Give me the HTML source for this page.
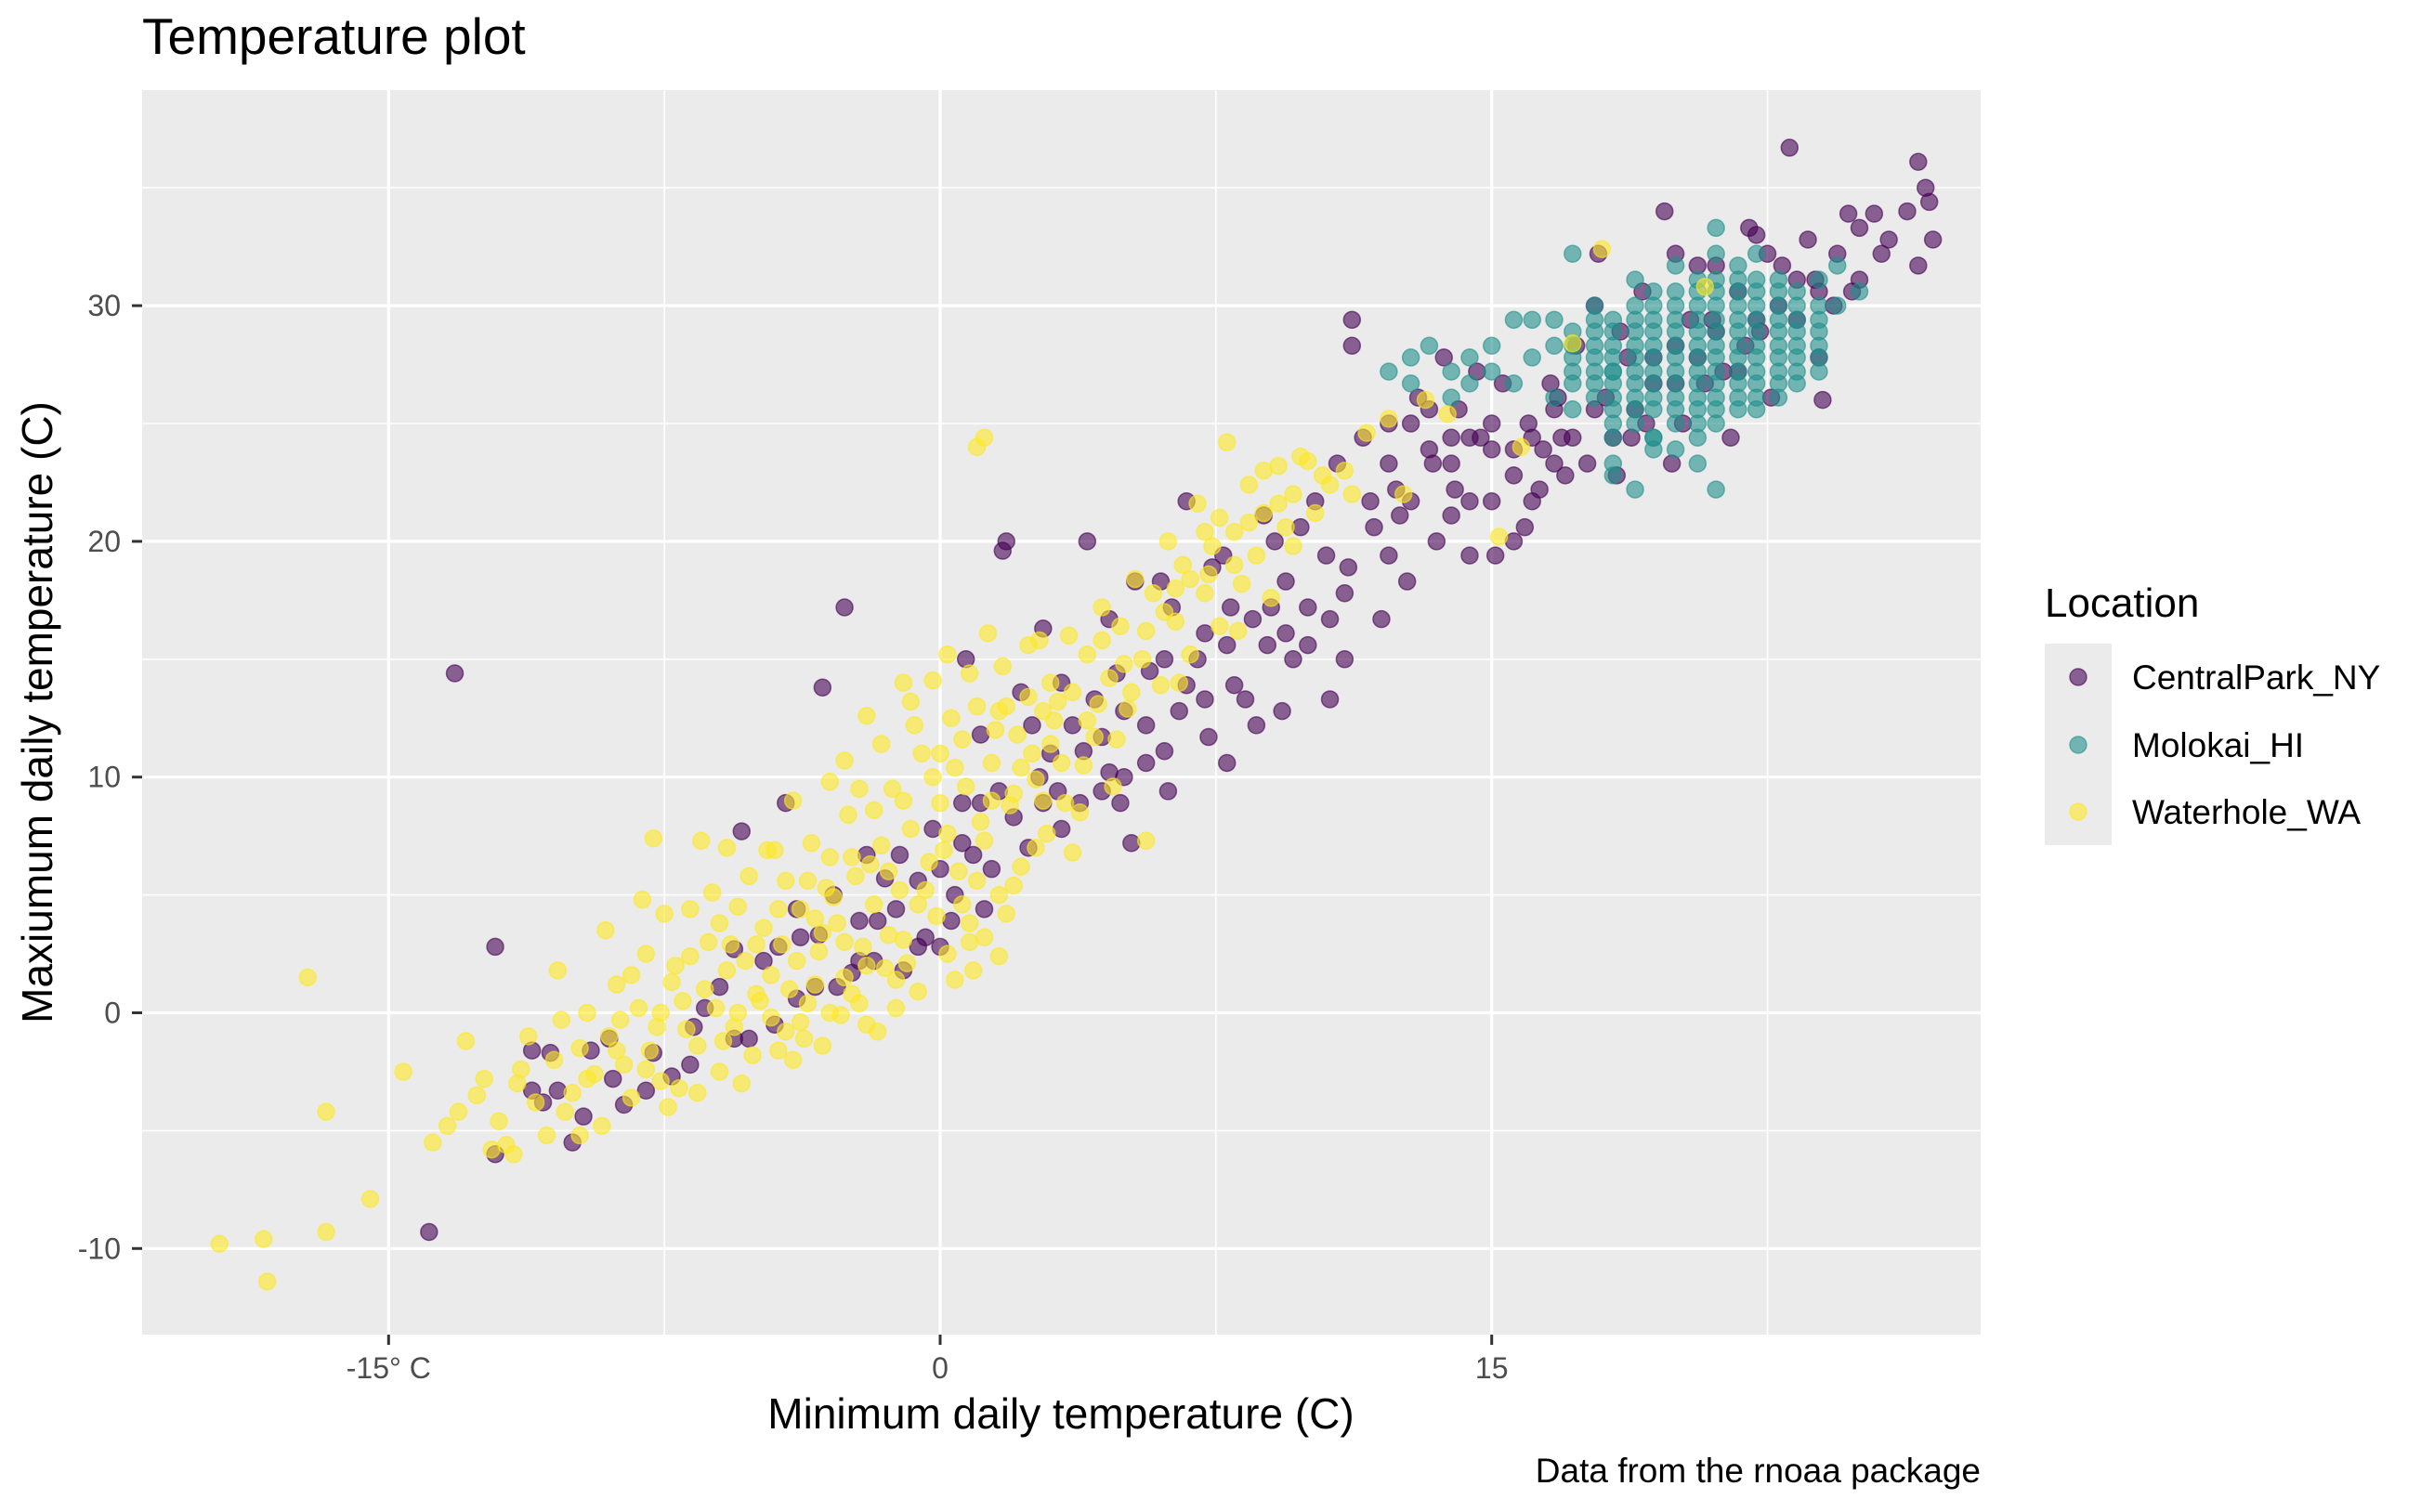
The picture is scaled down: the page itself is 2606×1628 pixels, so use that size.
<!DOCTYPE html>
<html><head><meta charset="utf-8"><style>
html,body{margin:0;padding:0;background:#fff;}
svg{display:block;font-family:"Liberation Sans",sans-serif;}
</style></head><body>
<svg id="chart" width="2606" height="1628" viewBox="0 0 2606 1628" xmlns="http://www.w3.org/2000/svg">
<text x="153" y="58" font-size="55" fill="#000">Temperature plot</text>
<rect x="153" y="97" width="1979" height="1340" fill="#ebebeb"/>
<g id="grid"></g>
<g id="yaxis"></g>
<g id="xaxis"></g>
<g id="points"></g>
<text x="1142" y="1538" font-size="46" text-anchor="middle" fill="#000">Minimum daily temperature (C)</text>
<text transform="translate(56,767) rotate(-90)" font-size="46" text-anchor="middle" fill="#000">Maxiumum daily temperature (C)</text>
<text x="2132" y="1596" font-size="37" text-anchor="end" fill="#000">Data from the rnoaa package</text>
<g>
<text x="2201" y="664" font-size="44" fill="#000">Location</text>
<rect x="2201" y="693" width="72" height="217" fill="#ebebeb"/>
<circle cx="2237" cy="729" r="9" fill="#440154" fill-opacity="0.6" stroke="#440154" stroke-opacity="0.6" stroke-width="1.5"/>
<circle cx="2237" cy="802" r="9" fill="#21908c" fill-opacity="0.6" stroke="#21908c" stroke-opacity="0.6" stroke-width="1.5"/>
<circle cx="2237" cy="874" r="9" fill="#fde725" fill-opacity="0.6" stroke="#fde725" stroke-opacity="0.6" stroke-width="1.5"/>
<text x="2295" y="742" font-size="37" fill="#000">CentralPark_NY</text>
<text x="2295" y="815" font-size="37" fill="#000">Molokai_HI</text>
<text x="2295" y="887" font-size="37" fill="#000">Waterhole_WA</text>
</g>
</svg>
<script>
const xTicks = [-15, 0, 15];
const xTickLabels = ["-15\u00b0 C", "0", "15"];
const xMinor = [-7.5, 7.5, 22.5];
const yTicks = [-10, 0, 10, 20, 30];
const yTickLabels = ["-10", "0", "10", "20", "30"];
const yMinor = [-5, 5, 15, 25, 35];

const nyPoints = [[-13.2,14.4],[-12.1,2.8],[-13.9,-9.3],[-12.1,-6.0],[-11.1,-1.6],[-10.8,-3.8],[-9.7,-4.4],[-9.5,-1.6],[-10.0,-5.5],[-7.3,-2.7],[-6.4,0.2],[-5.6,2.7],[-5.4,7.7],[-4.5,-0.5],[-4.2,8.9],[-3.8,3.2],[-3.2,13.8],[-2.6,17.2],[-2.2,3.9],[-1.5,5.7],[-1.0,1.8],[-0.4,3.2],[0.0,6.1],[0.6,8.9],[0.7,15.0],[1.1,11.8],[1.6,9.4],[2.2,13.6],[1.7,19.6],[1.8,20.0],[2.8,16.3],[2.4,7.0],[3.0,11.0],[3.3,14.0],[3.8,8.9],[4.0,20.0],[4.2,13.3],[4.6,10.2],[4.6,16.7],[5.0,12.8],[5.3,18.3],[5.2,7.2],[5.7,14.5],[6.2,9.4],[6.3,17.2],[6.7,21.7],[6.5,12.8],[7.0,15.0],[7.3,11.7],[7.4,18.9],[7.8,10.6],[8.0,13.9],[8.5,16.7],[8.8,21.1],[9.3,12.8],[9.4,18.3],[10.0,15.6],[10.2,21.7],[10.6,13.3],[11.0,17.8],[11.2,28.3],[11.2,29.4],[11.5,24.4],[11.8,20.6],[12.0,16.7],[12.4,22.2],[12.7,18.3],[13.0,26.1],[13.4,23.3],[13.5,20.0],[13.9,24.4],[14.1,25.6],[14.4,21.7],[14.6,27.2],[15.0,23.9],[15.1,19.4],[15.6,22.8],[15.9,20.6],[16.0,25.0],[16.3,22.2],[16.6,26.7],[16.9,24.4],[17.3,28.3],[17.6,23.3],[17.9,32.2],[18.1,26.1],[18.5,28.9],[18.8,24.4],[19.1,30.6],[19.4,26.7],[19.7,34.0],[20.0,28.3],[20.2,25.0],[20.6,31.7],[21.0,29.4],[21.3,27.2],[21.7,30.6],[22.0,33.3],[22.3,28.9],[22.6,26.1],[22.9,31.7],[23.3,29.4],[23.6,32.8],[23.9,27.8],[24.3,30.0],[24.7,33.9],[25.0,31.1],[25.4,33.9],[25.8,32.8],[26.3,34.0],[26.6,36.1],[26.8,35.0],[26.6,31.7],[27.0,32.8],[26.9,34.4],[23.1,36.7],[24.0,26.0],[21.9,28.3],[19.9,23.3],[18.4,22.8],[17.0,22.8],[16.8,26.1],[15.3,26.7],[14.0,22.2],[12.8,25.0],[12.2,19.4],[11.0,15.0],[10.5,19.4],[9.6,15.0],[9.0,17.2],[8.6,12.2],[7.7,19.4],[7.2,13.3],[6.1,11.1],[5.6,12.2],[4.8,14.4],[4.4,11.7],[3.6,12.2],[2.7,10.0],[2.0,8.3],[1.4,6.1],[0.9,6.7],[0.3,3.9],[-0.6,2.8],[-1.2,4.4],[-1.8,2.2],[-2.4,1.7],[-2.9,5.0],[-3.4,1.1],[-3.9,0.6],[-4.8,2.2],[-5.2,-1.1],[-6.0,1.1],[-6.8,-2.2],[-8.0,-3.3],[-9.0,-1.1],[-10.4,-3.3],[-8.6,-3.9],[-2.0,6.7],[-0.2,7.8],[0.4,5.0],[1.2,4.4],[2.5,12.2],[3.2,9.4],[4.9,8.9],[6.0,18.3],[7.9,17.2],[9.8,20.6],[12.5,21.1],[14.7,24.4],[16.4,23.9],[18.7,27.8],[20.4,29.4],[21.5,24.4],[22.5,32.2],[23.8,31.1],[24.8,30.6],[17.8,30.0],[19.2,25.0],[20.8,26.7],[13.7,27.8],[10.8,23.3],[9.1,20.0],
[12.2,23.3],[12.2,25.0],[12.8,21.7],[13.3,23.9],[13.3,25.6],[13.9,21.1],[13.9,23.3],[14.4,24.4],[14.4,19.4],[15.0,21.7],[15.0,25.0],[15.6,20.0],[15.6,23.9],[16.1,21.7],[16.1,24.4],[16.7,23.3],[16.7,25.6],[17.2,24.4],[17.8,25.6],[18.3,24.4],[18.9,25.6],[19.4,27.8],[20.0,26.7],[20.6,27.8],[21.1,28.9],[21.7,27.2],[22.2,29.4],[22.8,30.0],[23.3,31.1],[23.9,30.6],[24.4,32.2],[25.0,33.3],[25.6,32.2],[21.1,31.7],[22.2,33.0],[20.0,32.2],[8.3,13.3],[8.9,15.6],[9.4,16.1],[10.0,17.2],[10.6,16.7],[11.1,18.9],[11.7,21.7],[7.8,15.6],[7.2,16.1],[6.7,13.9],[6.1,15.0],[5.6,10.6],[5.0,10.0],[4.4,9.4],[3.9,11.1],[3.3,7.8],[2.8,8.9],[-4.4,2.8],[-3.9,4.4],[-3.3,3.3],[-2.8,1.1],[-2.2,2.2],[-1.7,3.9],[-1.1,6.7],[-0.6,5.6],[0.0,2.8],[0.6,7.2],[1.1,8.9],[-5.6,-1.1],[-6.7,-0.6],[-7.8,-1.7],[-8.9,-2.8],[-10.6,-1.7],[-11.1,-3.3]];

const hiSparse = [[12.2,27.2],[12.8,27.8],[12.8,26.7],[13.3,28.3],[13.9,27.2],[13.9,26.1],[14.4,27.8],[14.4,26.7],[15.0,28.3],[15.0,27.2],[15.6,29.4],[15.6,26.7],[16.1,29.4],[16.1,27.8],[16.7,28.3],[16.7,26.1],[16.7,29.4],[17.2,27.8],[17.2,32.2],[17.2,25.6],[17.8,28.9],[17.8,26.7],[17.8,30.0],[18.3,27.2],[18.3,23.3],[18.3,22.8],[18.9,22.2],[18.9,31.1],[19.4,24.4],[20.0,31.7],[21.1,22.2],[21.1,33.3],[22.2,32.2],[24.4,31.7],[24.4,30.0],[25.0,30.6],[20.6,23.3],[19.4,23.9]];
const hiCols = [17.2,17.8,18.3,18.9,19.4,20.0,20.6,21.1,21.7,22.2,22.8,23.3,23.9];
const hiRows = [
[26.7,27.2,28.3,28.9],
[26.1,27.2,27.8,28.3,29.4],
[24.4,25.0,25.6,26.1,26.7,27.2,27.8,28.3,28.9,29.4],
[25.0,25.6,26.1,26.7,27.2,27.8,28.3,28.9,29.4,30.0],
[24.4,25.6,26.1,26.7,27.2,27.8,28.3,28.9,29.4,30.0,30.6],
[23.9,25.0,25.6,26.1,26.7,27.2,27.8,28.3,28.9,29.4,30.0,30.6],
[24.4,25.0,25.6,26.1,26.7,27.2,27.8,28.3,28.9,29.4,30.0,30.6,31.1],
[25.0,25.6,26.1,26.7,27.2,27.8,28.3,28.9,29.4,30.0,30.6,31.1,32.2],
[25.6,26.1,26.7,27.2,27.8,28.3,28.9,29.4,30.0,30.6,31.1,31.7],
[25.6,26.1,26.7,27.2,27.8,28.3,28.9,29.4,30.0,30.6,31.1],
[26.1,26.7,27.2,27.8,28.3,28.9,29.4,30.0,30.6,31.1],
[26.7,27.2,27.8,28.3,28.9,29.4,30.0,30.6],
[27.2,27.8,28.3,28.9,29.4,30.0,31.1]];

const waPoints = [[-19.6,-9.8],[-18.4,-9.6],[-18.3,-11.4],[-17.2,1.5],[-16.7,-4.2],[-16.7,-9.3],[-15.5,-7.9],[-14.6,-2.5],[-13.8,-5.5],[-13.4,-4.8],[-13.1,-4.2],[-12.9,-1.2],[-12.6,-3.5],[-12.2,-5.8],[-12.0,-4.6],[-11.8,-5.6],[-11.5,-3.0],[-11.2,-1.0],[-11.0,-3.8],[-10.7,-5.2],[-10.5,-2.0],[-10.3,-0.3],[-10.0,-3.4],[-9.8,-1.5],[-9.6,0.0],[-9.4,-2.6],[-9.2,-4.8],[-9.0,-1.0],[-8.8,1.2],[-8.6,-2.2],[-8.4,-3.6],[-8.2,0.2],[-8.0,2.5],[-7.9,-1.6],[-7.7,-0.6],[-7.5,4.2],[-7.3,1.3],[-7.1,-3.2],[-7.0,0.5],[-6.8,2.4],[-6.6,-1.4],[-6.5,7.3],[-6.3,3.0],[-6.1,0.2],[-6.0,-2.5],[-5.8,1.8],[-5.6,-0.6],[-5.5,4.5],[-5.3,2.2],[-5.1,-1.8],[-5.0,0.8],[-4.8,3.6],[-4.6,-0.2],[-4.5,6.9],[-4.3,2.9],[-4.1,1.0],[-4.0,-2.0],[-3.8,4.4],[-3.6,0.4],[-3.5,7.2],[-3.3,2.6],[-3.1,5.3],[-3.0,0.0],[-2.8,3.8],[-2.6,1.5],[-2.5,8.4],[-2.3,5.8],[-2.1,2.8],[-2.0,-0.5],[-1.8,4.6],[-1.6,7.1],[-1.5,1.9],[-1.3,9.5],[-1.1,5.2],[-1.0,3.1],[-0.8,7.8],[-0.6,0.9],[-0.5,11.0],[-0.3,6.4],[-0.1,4.1],[0.0,8.9],[0.2,2.5],[0.3,12.5],[0.5,6.0],[0.7,9.6],[0.8,3.8],[1.0,24.0],[1.2,24.4],[1.0,13.0],[1.2,7.3],[1.4,10.6],[1.6,5.0],[1.7,14.7],[1.9,8.8],[2.1,11.8],[2.2,6.2],[2.4,13.4],[2.6,9.9],[2.7,15.8],[2.9,7.6],[3.1,12.4],[3.3,10.6],[3.5,16.0],[3.6,13.6],[3.8,8.5],[4.0,15.2],[4.2,11.7],[4.4,17.2],[4.6,14.2],[4.7,9.6],[4.9,16.4],[5.1,12.9],[5.3,18.4],[5.5,15.0],[5.6,7.3],[5.8,17.8],[6.0,13.9],[6.2,20.0],[6.4,16.6],[6.6,19.0],[6.8,15.2],[7.0,21.6],[7.2,17.8],[7.4,19.8],[7.6,16.4],[7.8,24.2],[8.0,20.4],[8.2,18.2],[8.4,22.4],[8.6,19.4],[8.8,21.2],[9.0,17.6],[9.2,23.2],[9.4,20.6],[9.6,22.0],[9.8,23.6],[10.2,21.2],[10.6,22.4],[11.0,23.0],[11.6,24.6],[12.2,25.2],[12.6,22.0],[13.2,26.0],[13.8,25.4],[15.2,20.2],[15.8,24.0],[17.2,28.4],[18.0,32.4],[20.8,30.8],[-4.9,0.5],[-4.2,-0.8],[-3.9,2.2],[-3.4,1.2],[-2.9,4.9],[-2.4,0.8],[-1.9,6.3],[-1.4,3.3],[-0.9,2.1],[-0.4,5.2],[0.1,6.9],[0.6,4.6],[1.1,8.1],[1.5,12.0],[2.0,9.3],[2.5,11.0],[3.0,14.0],[-6.9,-0.7],[-7.6,-2.9],[-8.7,-0.3],[-5.9,-1.2],[-5.2,5.8],[-4.4,4.4],[-3.7,-1.1],[-2.7,-0.1],[-2.2,9.5],[-1.7,-0.8],[-0.7,12.2],[0.4,10.4],[0.9,1.8],[1.8,4.2],[-6.2,5.1],[-5.7,2.9],[-3.2,3.4],[-1.2,0.2],[6.1,17.0],[7.3,18.6],[8.1,16.2],[5.0,14.8],[4.3,13.1],[3.4,8.9],[2.8,12.8],[3.9,10.5],[6.5,14.0],[1.3,16.1],[-2.6,10.7],[-0.2,14.1],[0.8,3.0],[1.6,2.4],[-4.7,6.9],[-9.1,3.5],[-8.1,4.8],[-7.8,7.4],[-10.4,1.8],
[-5.5,0.0],[-5.0,2.9],[-4.6,1.6],[-4.2,5.6],[-3.8,-0.4],[-3.4,4.0],[-3.0,6.6],[-2.6,3.0],[-2.2,0.4],[-1.8,8.6],[-1.4,6.0],[-1.0,9.0],[-0.6,4.6],[-0.2,10.0],[0.2,7.6],[0.6,11.6],[1.0,5.6],[1.4,9.0],[1.8,13.0],[2.2,10.4],[2.6,7.0],[3.0,11.4],[-6.4,1.0],[-6.8,4.4],[-7.2,2.0],[-7.6,0.0],[-8.0,-2.4],[-8.4,1.6],[-8.8,-1.6],[-9.6,-2.8],[-10.2,-4.2],[-11.4,-2.4],[-12.4,-2.8],[-5.8,7.0],[-4.0,9.0],[-3.6,5.6],[-2.4,6.6],[-1.6,11.4],[-0.8,13.2],[0.0,11.0],[0.8,14.4],[1.6,12.8],[2.4,15.6],[3.2,13.2],[4.0,12.4],[4.8,11.6],[5.6,16.2],[6.4,18.0],[7.2,20.4],[8.0,19.0],[8.8,23.0],[9.6,19.8],[10.4,22.8],[11.2,22.0],[-3.2,-1.4],[-2.0,2.0],[-1.2,1.4],[0.4,1.4],[1.2,3.2],[2.0,5.4],[2.8,9.0],[3.6,6.8],[-4.4,-1.6],[-5.4,-3.0],[-6.6,-3.4],[-7.4,-4.0],[-9.8,-5.2],[-11.6,-6.0],[-6.0,3.8],[-3.0,9.8],[-2.0,12.6],[-1.0,14.0],[0.2,15.2],[4.4,15.8],[5.2,13.6],[6.8,18.4],[7.6,21.0],[8.4,20.8],[9.2,21.6],[10.0,23.4]];

const NS = "http://www.w3.org/2000/svg";
const PL = 153, PR = 2132, PT = 97, PB = 1437;
function xs(v){ return 1012 + 39.58 * v; }
function ys(v){ return 1090.5 - 25.38 * v; }
function mk(tag, attrs, parent){
  const e = document.createElementNS(NS, tag);
  for (const k in attrs) e.setAttribute(k, attrs[k]);
  parent.appendChild(e);
  return e;
}
const grid = document.getElementById('grid');
const xa = document.getElementById('xaxis');
const ya = document.getElementById('yaxis');
const pts = document.getElementById('points');

xMinor.forEach(v => {
  const l = mk('line', {x1: xs(v), x2: xs(v), y1: PT, y2: PB, stroke: '#fff', 'stroke-width': 1.6}, grid);
  
  
});
yMinor.forEach(v => {
  const l = mk('line', {x1: PL, x2: PR, y1: ys(v), y2: ys(v), stroke: '#fff', 'stroke-width': 1.6}, grid);
  
  
});
xTicks.forEach((v, i) => {
  const l = mk('line', {x1: xs(v), x2: xs(v), y1: PT, y2: PB, stroke: '#fff', 'stroke-width': 3.2}, grid);
  
  
  const t = mk('line', {x1: xs(v), x2: xs(v), y1: PB, y2: PB + 11, stroke: '#333', 'stroke-width': 3}, xa);
  
  
  const tx = mk('text', {x: xs(v), y: 1484, 'font-size': 32, 'text-anchor': 'middle', fill: '#4d4d4d'}, xa);
  tx.textContent = xTickLabels[i];
  
  
});
yTicks.forEach((v, i) => {
  const l = mk('line', {x1: PL, x2: PR, y1: ys(v), y2: ys(v), stroke: '#fff', 'stroke-width': 3.2}, grid);
  
  
  const t = mk('line', {x1: PL - 11, x2: PL, y1: ys(v), y2: ys(v), stroke: '#333', 'stroke-width': 3}, ya);
  
  
  const tx = mk('text', {x: 130, y: ys(v) + 11, 'font-size': 32, 'text-anchor': 'end', fill: '#4d4d4d'}, ya);
  tx.textContent = yTickLabels[i];
  
  
});

function dot(p, color, name){
  const c = mk('circle', {cx: xs(p[0]), cy: ys(p[1]), r: 9, fill: color, 'fill-opacity': 0.6, stroke: color, 'stroke-opacity': 0.6, 'stroke-width': 1.5}, pts);
  
  
}
nyPoints.forEach(p => dot(p, '#440154', 'point-centralpark'));
hiSparse.forEach(p => dot(p, '#21908c', 'point-molokai'));
hiCols.forEach((cx, i) => hiRows[i].forEach(y => dot([cx, y], '#21908c', 'point-molokai')));
waPoints.forEach(p => dot(p, '#fde725', 'point-waterhole'));
</script>
</body></html>
